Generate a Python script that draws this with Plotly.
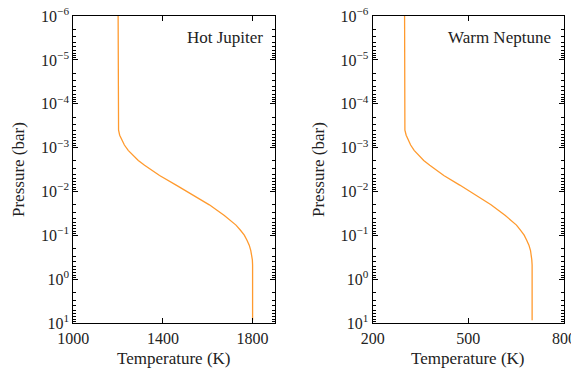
import plotly.graph_objects as go

# Temperature-pressure profiles (pressure in bar, temperature in K)
pressure = [1e-6, 1e-5, 1e-4, 3.1e-4, 4.0e-4, 5.2e-4, 6.7e-4, 8.7e-4, 1.15e-3,
            1.48e-3, 1.95e-3, 2.5e-3, 4.3e-3, 7.1e-3, 1.2e-2, 2.0e-2, 3.5e-2,
            4.6e-2, 5.8e-2, 7.6e-2, 9.8e-2, 0.128, 0.166, 0.22, 0.28, 0.36,
            0.47, 1.0, 8.5]
temp_hot_jupiter = [1200, 1200, 1200, 1200, 1202, 1207, 1216, 1228, 1245,
                    1266, 1290, 1318, 1385, 1459, 1533, 1607, 1674,
                    1702, 1726, 1746, 1763, 1775, 1785, 1792, 1797, 1799,
                    1800, 1800, 1800]
temp_warm_neptune = [300, 300, 300, 300, 301, 305, 311, 319, 330,
                     344, 360, 379, 423, 473, 522, 571, 616,
                     635, 651, 664, 675, 683, 690, 695, 698, 699,
                     700, 700, 700]

panel_names = ["Hot Jupiter", "Warm Neptune"]
x_ranges = [[1000, 1900], [200, 800]]
x_ticks = [[1000, 1400, 1800], [200, 500, 800]]

decades = [-6, -5, -4, -3, -2, -1, 0, 1]
y_tickvals = [10 ** d for d in decades]
y_ticktext = ["10<sup>\u2212%d</sup>" % -d if d < 0 else "10<sup>%d</sup>" % d
              for d in decades]
y_minor = [m * 10 ** d for d in decades[:-1] for m in range(2, 10)]

FONT = "Liberation Serif"
TEXT_COLOR = "#222"
LINE_COLOR = "#ff9a2e"

fig = go.Figure()

domains_x = [[73.3 / 571, 275 / 571], [372.7 / 571, 564 / 571]]
domain_y = [1 - 323.3 / 374, 1 - 16 / 374]

for i, (temps, name) in enumerate(zip([temp_hot_jupiter, temp_warm_neptune], panel_names)):
    xa = "x" if i == 0 else "x2"
    ya = "y" if i == 0 else "y2"
    fig.add_trace(go.Scatter(x=temps, y=pressure, mode="lines",
                             line=dict(color=LINE_COLOR, width=1.3),
                             xaxis=xa, yaxis=ya, showlegend=False))
    axis_common = dict(showline=True, linecolor="black", linewidth=1.2, mirror="allticks",
                       ticks="inside", tickcolor="black", showgrid=False, zeroline=False,
                       automargin=False, ticklabeloverflow="allow",
                       tickfont=dict(family=FONT, size=16, color=TEXT_COLOR))
    xkey = "xaxis" if i == 0 else "xaxis2"
    ykey = "yaxis" if i == 0 else "yaxis2"
    fig.update_layout({
        xkey: dict(axis_common, domain=domains_x[i], range=x_ranges[i],
                   tickmode="array", tickvals=x_ticks[i], ticklen=5, tickwidth=1,
                   anchor=ya),
        ykey: dict(axis_common, domain=domain_y, type="log", range=[1, -6],
                   tickmode="array", tickvals=y_tickvals, ticktext=y_ticktext,
                   ticklen=5, tickwidth=1, anchor=xa,
                   minor=dict(tickmode="array", tickvals=y_minor, ticks="inside",
                              ticklen=3, tickcolor="black", tickwidth=1, showgrid=False)),
    })

annotations = [
    dict(text="Hot Jupiter", x=265 / 571, y=1 - 38 / 374, xanchor="right", yanchor="middle"),
    dict(text="Warm Neptune", x=553 / 571, y=1 - 38 / 374, xanchor="right", yanchor="middle"),
    dict(text="Pressure (bar)", x=18 / 571, y=1 - 170 / 374, textangle=-90,
         xanchor="center", yanchor="middle"),
    dict(text="Pressure (bar)", x=318 / 571, y=1 - 170 / 374, textangle=-90,
         xanchor="center", yanchor="middle"),
    dict(text="Temperature (K)", x=174 / 571, y=1 - 358 / 374, xanchor="center", yanchor="middle"),
    dict(text="Temperature (K)", x=468 / 571, y=1 - 358 / 374, xanchor="center", yanchor="middle"),
]
for a in annotations:
    a.update(xref="paper", yref="paper", showarrow=False,
             font=dict(family=FONT, size=17, color=TEXT_COLOR))

fig.update_layout(width=571, height=374, margin=dict(l=0, r=0, t=0, b=0),
                  paper_bgcolor="white", plot_bgcolor="white",
                  annotations=annotations)

fig.write_html("out.html")
